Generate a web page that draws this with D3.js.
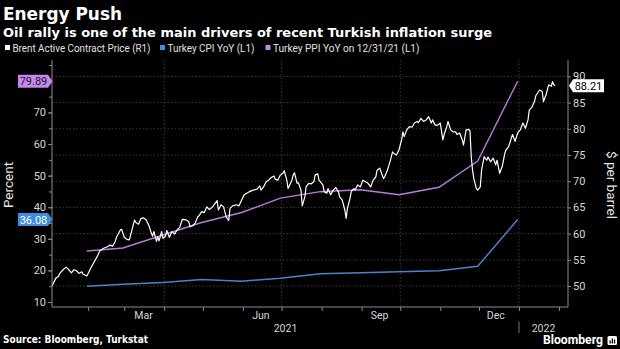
<!DOCTYPE html>
<html><head><meta charset="utf-8">
<script src="https://cdn.jsdelivr.net/npm/d3@7"></script>
<style>
html,body{margin:0;padding:0;background:#000;}
svg{display:block;font-family:Roboto,"Liberation Sans",sans-serif;}
</style></head><body>
<svg id="chart" width="620" height="349"></svg>
<script>
// ---------------- DATA ----------------
const brentDates = [
"2021-01-04","2021-01-07","2021-01-09","2021-01-10","2021-01-13","2021-01-15","2021-01-17","2021-01-19","2021-01-21","2021-01-23","2021-01-25","2021-01-27","2021-01-28","2021-01-31",
"2021-02-01","2021-02-03","2021-02-05","2021-02-08","2021-02-10","2021-02-13","2021-02-16","2021-02-18","2021-02-20","2021-02-22","2021-02-23","2021-02-26","2021-02-27",
"2021-03-01","2021-03-03","2021-03-05","2021-03-07","2021-03-09","2021-03-10","2021-03-12","2021-03-14","2021-03-16","2021-03-18","2021-03-20","2021-03-22","2021-03-23","2021-03-24","2021-03-26","2021-03-27","2021-03-28","2021-03-30","2021-03-31",
"2021-04-02","2021-04-03","2021-04-05","2021-04-07","2021-04-09","2021-04-11","2021-04-13","2021-04-15","2021-04-18","2021-04-20","2021-04-21","2021-04-23","2021-04-25","2021-04-27","2021-04-28","2021-04-30",
"2021-05-02","2021-05-04","2021-05-06","2021-05-08","2021-05-09","2021-05-12","2021-05-13","2021-05-15","2021-05-17","2021-05-19","2021-05-21","2021-05-22","2021-05-24","2021-05-27","2021-05-29","2021-05-31",
"2021-06-02","2021-06-04","2021-06-06","2021-06-09","2021-06-12","2021-06-14","2021-06-15","2021-06-17","2021-06-19","2021-06-21","2021-06-23","2021-06-25","2021-06-26","2021-06-28","2021-06-30",
"2021-07-02","2021-07-03","2021-07-05","2021-07-06","2021-07-09","2021-07-10","2021-07-11","2021-07-13","2021-07-14","2021-07-16","2021-07-17","2021-07-19","2021-07-20","2021-07-22","2021-07-24","2021-07-26","2021-07-27","2021-07-29","2021-07-30",
"2021-08-02","2021-08-03","2021-08-05","2021-08-06","2021-08-08","2021-08-10","2021-08-12","2021-08-14","2021-08-15","2021-08-17","2021-08-19","2021-08-20","2021-08-21","2021-08-23","2021-08-24","2021-08-26","2021-08-27","2021-08-29","2021-08-31",
"2021-09-02","2021-09-04","2021-09-06","2021-09-08","2021-09-10","2021-09-12","2021-09-13","2021-09-15","2021-09-18","2021-09-19","2021-09-21","2021-09-23","2021-09-25","2021-09-26","2021-09-28","2021-09-30",
"2021-10-02","2021-10-03","2021-10-04","2021-10-06","2021-10-08","2021-10-10","2021-10-12","2021-10-14","2021-10-15","2021-10-17","2021-10-19","2021-10-21","2021-10-23","2021-10-25","2021-10-26","2021-10-28","2021-10-30",
"2021-11-01","2021-11-03","2021-11-04","2021-11-06","2021-11-07","2021-11-09","2021-11-11","2021-11-13","2021-11-14","2021-11-16","2021-11-18","2021-11-19","2021-11-21","2021-11-23","2021-11-24","2021-11-25","2021-11-26","2021-11-27","2021-11-29","2021-11-30",
"2021-12-02","2021-12-03","2021-12-05","2021-12-07","2021-12-08","2021-12-10","2021-12-12","2021-12-14","2021-12-15","2021-12-17","2021-12-19","2021-12-21","2021-12-22","2021-12-24","2021-12-26","2021-12-27","2021-12-29","2021-12-31",
"2022-01-02","2022-01-04","2022-01-06","2022-01-08","2022-01-09","2022-01-11","2022-01-13","2022-01-14","2022-01-17","2022-01-19","2022-01-20","2022-01-22","2022-01-24","2022-01-26","2022-01-27","2022-01-28","2022-01-29"
];
const brentValues = [
50.0,51.5,51.8,52.4,53.2,53.6,53.1,52.5,53.1,52.9,52.4,52.7,52.3,51.9,
52.4,53.4,54.3,55.6,56.7,57.2,57.5,57.8,57.6,58.5,59.3,60.7,60.8,
59.3,58.9,58.8,60.7,62.6,62.1,61.8,62.9,63.0,62.6,61.6,60.1,59.5,60.4,58.5,59.4,58.6,60.4,59.1,
59.5,60.6,59.3,60.4,59.9,60.7,61.2,62.7,62.6,62.3,61.3,61.5,62.0,63.2,63.4,64.2,
64.0,65.1,64.6,65.0,65.3,66.3,64.5,65.5,65.1,63.2,62.5,64.8,65.3,65.5,65.3,66.4,
67.4,67.7,68.0,68.3,68.5,69.1,68.3,68.9,69.9,70.2,70.7,71.0,70.4,70.2,71.2,
71.5,72.0,70.2,68.6,70.2,71.2,71.6,69.6,69.7,68.3,65.3,67.0,68.9,69.6,69.5,69.9,71.2,71.4,70.2,
69.3,68.0,67.7,68.6,67.4,68.3,68.8,68.0,67.0,66.4,64.5,62.9,64.8,66.7,68.0,68.6,68.3,69.3,68.9,
70.2,69.9,69.6,68.9,70.2,70.8,72.1,72.5,70.5,70.9,72.1,73.7,75.6,75.3,75.0,76.0,
77.9,79.4,78.5,79.8,80.4,80.3,81.1,81.4,81.2,82.0,81.4,81.7,82.3,81.1,81.7,80.7,80.7,
81.1,77.9,78.9,80.4,81.4,79.8,79.4,79.4,78.9,79.2,77.9,76.9,79.8,79.9,79.6,74.7,72.1,70.5,68.6,68.3,
68.9,72.1,74.7,74.0,74.6,73.7,74.4,73.1,74.0,71.5,72.8,75.3,76.0,76.6,78.2,78.9,77.6,79.2,
79.8,81.1,80.1,81.7,83.6,84.1,85.2,86.3,87.4,87.1,85.2,86.5,88.4,88.1,89.0,88.4,88.21
];
const monthEndDates = ["2021-01-31","2021-02-28","2021-03-31","2021-04-30","2021-05-31","2021-06-30",
                       "2021-07-31","2021-08-31","2021-09-30","2021-10-31","2021-11-30","2021-12-31"];
const cpiValues = [14.97,15.61,16.19,17.14,16.59,17.53,18.95,19.25,19.58,19.89,21.31,36.08];
const ppiValues = [26.16,27.09,31.20,35.17,38.33,42.89,44.92,45.52,43.96,46.31,54.62,79.89];

const leftTickValues = [10,20,30,40,50,60,70];
const leftMinorTicks = [10,15,20,25,30,35,40,45,50,55,60,65,70,75,80,85];
const rightTickValues = [50,55,60,65,70,75,80,85,90];
const monthLabels = [["2021-03-16","Mar"],["2021-06-15","Jun"],["2021-09-15","Sep"],["2021-12-14","Dec"]];
const yearLabels = ["2021","2022"];
const legendItems = [
  ["Brent Active Contract Price (R1)", "#ffffff"],
  ["Turkey CPI YoY (L1)", "#3d8ee0"],
  ["Turkey PPI YoY on 12/31/21 (L1)", "#c586ee"]
];

// ---------------- CHART ----------------
const parse = d3.timeParse("%Y-%m-%d");
const svg = d3.select("#chart");
svg.append("rect").attr("width",620).attr("height",349).attr("fill","#000");

const L = 52, R = 568, T = 60, B = 307;
const x = d3.scaleTime().domain([parse("2021-01-04"), parse("2022-02-08")]).range([L, R]);
const yL = d3.scaleLinear().domain([8.42, 86.6]).range([B, T]);
const yR = d3.scaleLinear().domain([45.99, 93.13]).range([B, T]);

const brent = brentDates.map((d,i)=>({date:parse(d), v:brentValues[i]}));
const cpi = monthEndDates.map((d,i)=>({date:parse(d), v:cpiValues[i]}));
const ppi = monthEndDates.map((d,i)=>({date:parse(d), v:ppiValues[i]}));

// grid
const grid = svg.append("g");
grid.selectAll("line.h").data(rightTickValues).join("line")
  .attr("x1",L).attr("x2",R).attr("y1",d=>yR(d)).attr("y2",d=>yR(d))
  .attr("stroke","#4a4a4a").attr("stroke-width",0.8).attr("stroke-dasharray","1.5,2");
const quarterStarts = ["2021-04-01","2021-07-01","2021-10-01","2022-01-01"].map(parse);
grid.selectAll("line.v").data(quarterStarts).join("line")
  .attr("x1",d=>x(d)).attr("x2",d=>x(d)).attr("y1",T).attr("y2",B)
  .attr("stroke","#4a4a4a").attr("stroke-width",0.8).attr("stroke-dasharray","1.5,2");

// lines
const lineL = d3.line().x(d=>x(d.date)).y(d=>yL(d.v));
const lineR = d3.line().x(d=>x(d.date)).y(d=>yR(d.v));
svg.append("path").datum(ppi).attr("d",lineL).attr("fill","none")
  .attr("stroke","#b87bdc").attr("stroke-width",1.4);
svg.append("path").datum(cpi).attr("d",lineL).attr("fill","none")
  .attr("stroke","#4a84c8").attr("stroke-width",1.5);
svg.append("path").datum(brent).attr("d",lineR).attr("fill","none")
  .attr("stroke","#ffffff").attr("stroke-width",1.2).attr("stroke-linejoin","round");

// axes
const axisColor = "#8c8c8c", textColor = "#d6d6d6";
const gL = svg.append("g").attr("transform",`translate(${L},0)`)
  .call(d3.axisLeft(yL).tickValues(leftMinorTicks).tickSize(3).tickFormat(""));
const gL2 = svg.append("g").attr("transform",`translate(${L},0)`)
  .call(d3.axisLeft(yL).tickValues(leftTickValues).tickSize(4).tickPadding(2).tickFormat(d3.format("d")));
[gL,gL2].forEach(g=>{
  g.select(".domain").attr("stroke",axisColor).attr("d",`M0,${T}V${B}`);
  g.selectAll(".tick line").attr("stroke",axisColor);
});
gL2.select(".domain").remove();
gL2.selectAll(".tick text").attr("fill",textColor).attr("font-size",11).attr("font-family","Roboto");

const gR = svg.append("g").attr("transform",`translate(${R},0)`)
  .call(d3.axisRight(yR).tickValues(rightTickValues).tickSize(3).tickPadding(2).tickFormat(d3.format("d")));
gR.select(".domain").attr("stroke",axisColor).attr("d",`M0,${T}V${B}`);
gR.selectAll(".tick line").attr("stroke",axisColor);
gR.selectAll(".tick text").attr("fill",textColor).attr("font-size",11).attr("font-family","Roboto");

const gB = svg.append("g").attr("transform",`translate(0,${B})`)
  .call(d3.axisBottom(x).ticks(d3.timeMonth.every(1)).tickSize(4).tickFormat(""));
gB.select(".domain").attr("stroke",axisColor).attr("d",`M${L},0H${R}`);
gB.selectAll(".tick line").attr("stroke",axisColor);

svg.append("g").selectAll("text").data(monthLabels).join("text")
  .attr("x",d=>x(parse(d[0]))).attr("y",318.5).attr("text-anchor","middle")
  .attr("fill",textColor).attr("font-size",10.5).text(d=>d[1]);
const yearSplit = parse("2022-01-01");
const yearMid = [ (L + x(yearSplit))/2, (x(yearSplit) + R)/2 ];
svg.append("g").selectAll("text").data(yearLabels).join("text")
  .attr("x",(d,i)=>yearMid[i]).attr("y",331.5).attr("text-anchor","middle")
  .attr("fill",textColor).attr("font-size",10.5).text(d=>d);
svg.append("line").attr("x1",x(yearSplit)).attr("x2",x(yearSplit)).attr("y1",321.5).attr("y2",333)
  .attr("stroke","#777").attr("stroke-width",1);

// axis titles
svg.append("text").attr("transform","translate(13,185) rotate(-90)").attr("text-anchor","middle")
  .attr("fill","#e6e6e6").attr("font-size",13.5).text("Percent");
svg.append("text").attr("transform","translate(607,185) rotate(90)").attr("text-anchor","middle")
  .attr("fill","#e6e6e6").attr("font-size",13.5).text("$ per barrel");

// flags
function flagLeft(val, fill, tcol, label){
  const yy = yL(val);
  svg.append("path").attr("d",`M18,${yy-6.5}H48L52.5,${yy}L48,${yy+6.5}H18Z`).attr("fill",fill);
  svg.append("text").attr("x",33.5).attr("y",yy+4).attr("text-anchor","middle")
    .attr("fill",tcol).attr("font-size",11).text(label);
}
function flagRight(val, fill, tcol, label){
  const yy = yR(val);
  svg.append("path").attr("d",`M569,${yy}L573,${yy-6.5}H604V${yy+6.5}H573Z`).attr("fill",fill);
  svg.append("text").attr("x",588.5).attr("y",yy+4).attr("text-anchor","middle")
    .attr("fill",tcol).attr("font-size",11).text(label);
}
flagLeft(ppiValues[ppiValues.length-1], "#c586ee", "#1a1a1a", d3.format(".2f")(ppiValues[ppiValues.length-1]));
flagLeft(cpiValues[cpiValues.length-1], "#3d8ee0", "#ffffff", d3.format(".2f")(cpiValues[cpiValues.length-1]));
flagRight(brentValues[brentValues.length-1], "#ffffff", "#000000", d3.format(".2f")(brentValues[brentValues.length-1]));

// titles
svg.append("text").attr("x",3).attr("y",20).attr("fill","#fff").attr("font-weight","bold")
  .attr("font-size",17.5).attr("font-family","'DejaVu Sans',sans-serif")
  .attr("textLength",119).attr("lengthAdjust","spacingAndGlyphs").text("Energy Push");
svg.append("text").attr("x",3).attr("y",37).attr("fill","#fff").attr("font-weight","bold")
  .attr("font-size",13).attr("font-family","'DejaVu Sans',sans-serif")
  .attr("textLength",489).attr("lengthAdjust","spacingAndGlyphs")
  .text("Oil rally is one of the main drivers of recent Turkish inflation surge");

// legend
const legendX = [5, 160, 265.5], legendW = [138, 87, 146.5];
const lg = svg.append("g");
legendItems.forEach((it,i)=>{
  lg.append("rect").attr("x",legendX[i]).attr("y",45).attr("width",5).attr("height",5).attr("fill",it[1]);
  lg.append("text").attr("x",legendX[i]+7.5).attr("y",51.5).attr("fill","#e0e0e0")
    .attr("font-size",10).attr("textLength",legendW[i]).attr("lengthAdjust","spacingAndGlyphs").text(it[0]);
});

// source & branding
svg.append("text").attr("x",3).attr("y",343).attr("fill","#fff").attr("font-weight","bold")
  .attr("font-size",10).attr("font-family","'DejaVu Sans',sans-serif")
  .attr("textLength",145).attr("lengthAdjust","spacingAndGlyphs").text("Source: Bloomberg, Turkstat");
svg.append("text").attr("x",543).attr("y",344).attr("fill","#fff").attr("font-weight","bold")
  .attr("font-size",12).attr("textLength",60).attr("lengthAdjust","spacingAndGlyphs").text("Bloomberg");
const logo = svg.append("g").attr("transform","translate(607.5,336)");
logo.append("rect").attr("width",9.5).attr("height",9).attr("rx",1.5).attr("fill","#fff");
[[2,4.5,1.3,3],[4.2,2.5,1.3,5],[6.4,3.5,1.3,4]].forEach(b=>{
  logo.append("rect").attr("x",b[0]).attr("y",b[1]).attr("width",b[2]).attr("height",b[3]).attr("fill","#000");
});
</script>
</body></html>
